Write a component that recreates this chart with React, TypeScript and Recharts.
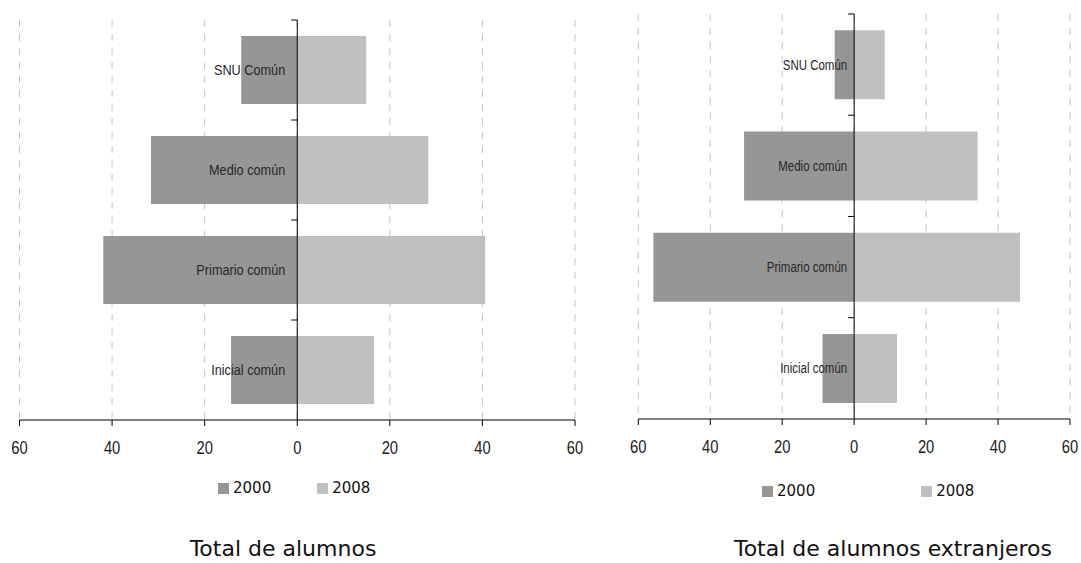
import React from "react";
import {
  BarChart,
  Bar,
  XAxis,
  YAxis,
  CartesianGrid,
  ReferenceLine,
  LabelList,
} from "recharts";

const categories = ["SNU Común", "Medio común", "Primario común", "Inicial común"];
const total2000 = [12.1, 31.6, 41.9, 14.3];
const total2008 = [14.9, 28.3, 40.6, 16.6];
const foreign2000 = [5.4, 30.6, 55.8, 8.8];
const foreign2008 = [8.5, 34.3, 46.1, 11.9];
const xTicks = [-60, -40, -20, 0, 20, 40, 60];
const seriesNames = ["2000", "2008"];

const COLOR_2000 = "#969696";
const COLOR_2008 = "#c0c0c0";
// no narrow font installed, so Liberation Sans is squeezed horizontally
const NARROW = "'Liberation Sans', Arial, sans-serif";
const SQUEEZE = 0.82;
const GAP = 0.16;

const buildRows = (a: number[], b: number[]) =>
  categories.map((name, i) => ({ name, y2000: -a[i], y2008: b[i] }));

function makeLabel(fontSize: number, offset: number) {
  return (props: any) => {
    const { x, y, width, height, value } = props;
    const right = Math.max(x, x + width);
    const bandTop = y - (height * GAP) / (1 - 2 * GAP);
    return (
      <g>
        <line x1={right} x2={right - 6} y1={bandTop} y2={bandTop} stroke="#000" />
        <text
          transform={`translate(${right - offset},${y + height / 2}) scale(${SQUEEZE},1)`}
          textAnchor="end"
          dominantBaseline="central"
          fontSize={fontSize}
          fontFamily={NARROW}
          fill="#262626"
        >
          {value}
        </text>
      </g>
    );
  };
}

function XTick(props: any) {
  const { x, y, payload } = props;
  return (
    <text
      transform={`translate(${x},${y}) scale(${SQUEEZE},1)`}
      textAnchor="middle"
      dy="0.71em"
      fontSize={18}
      fontFamily={NARROW}
      fill="#1a1a1a"
    >
      {Math.abs(payload.value)}
    </text>
  );
}

interface PyramidProps {
  rows: { name: string; y2000: number; y2008: number }[];
  width: number;
  height: number;
  margin: { top: number; right: number; bottom: number; left: number };
  labelSize: number;
  labelOffset: number;
}

function Pyramid({ rows, width, height, margin, labelSize, labelOffset }: PyramidProps) {
  return (
    <BarChart
      width={width}
      height={height}
      data={rows}
      layout="vertical"
      stackOffset="sign"
      barCategoryGap={`${GAP * 100}%`}
      margin={margin}
    >
      <CartesianGrid horizontal={false} stroke="#c4c4c4" strokeDasharray="7 7" />
      <XAxis
        type="number"
        domain={[-60, 60]}
        ticks={xTicks}
        axisLine={{ stroke: "#000" }}
        tickLine={{ stroke: "#000" }}
        tickSize={6}
        tickMargin={15}
        height={30}
        tick={<XTick />}
      />
      <YAxis type="category" dataKey="name" hide />
      <Bar dataKey="y2000" stackId="a" fill={COLOR_2000} isAnimationActive={false}>
        <LabelList dataKey="name" content={makeLabel(labelSize, labelOffset)} />
      </Bar>
      <Bar dataKey="y2008" stackId="a" fill={COLOR_2008} isAnimationActive={false} />
      <ReferenceLine x={0} stroke="#000" strokeWidth={1} />
    </BarChart>
  );
}

function Legend({ left, top, gap }: { left: number; top: number; gap: number }) {
  const colors = [COLOR_2000, COLOR_2008];
  return (
    <div
      style={{
        position: "absolute",
        left,
        top,
        display: "flex",
        alignItems: "center",
        fontFamily: "'DejaVu Sans', sans-serif",
        fontSize: 15,
        color: "#111",
      }}
    >
      {seriesNames.map((s, i) => (
        <div key={s} style={{ display: "flex", alignItems: "center", marginRight: i === 0 ? gap : 0 }}>
          <span style={{ width: 11, height: 11, background: colors[i], marginRight: 4 }} />
          <span>{s}</span>
        </div>
      ))}
    </div>
  );
}

const titleStyle: React.CSSProperties = {
  position: "absolute",
  top: 536,
  fontFamily: "'DejaVu Sans', sans-serif",
  fontSize: 22,
  color: "#111",
  whiteSpace: "nowrap",
  transform: "translateX(-50%)",
};

export default function App() {
  return (
    <div
      style={{
        position: "absolute",
        left: 0,
        top: 0,
        width: 1081,
        height: 563,
        background: "#fff",
        overflow: "hidden",
      }}
    >
      <div style={{ position: "absolute", left: 0, top: 0 }}>
        <Pyramid
          rows={buildRows(total2000, total2008)}
          width={600}
          height={470}
          margin={{ top: 20, right: 25, bottom: 20, left: 19.5 }}
          labelSize={15.5}
          labelOffset={12}
        />
      </div>
      <div style={{ position: "absolute", left: 620, top: 0 }}>
        <Pyramid
          rows={buildRows(foreign2000, foreign2008)}
          width={461}
          height={470}
          margin={{ top: 14, right: 11, bottom: 21, left: 18.3 }}
          labelSize={14}
          labelOffset={7}
        />
      </div>
      <Legend left={218} top={479} gap={46} />
      <Legend left={762} top={482} gap={106} />
      <div style={{ ...titleStyle, left: 283 }}>Total de alumnos</div>
      <div style={{ ...titleStyle, left: 893 }}>Total de alumnos extranjeros</div>
    </div>
  );
}
